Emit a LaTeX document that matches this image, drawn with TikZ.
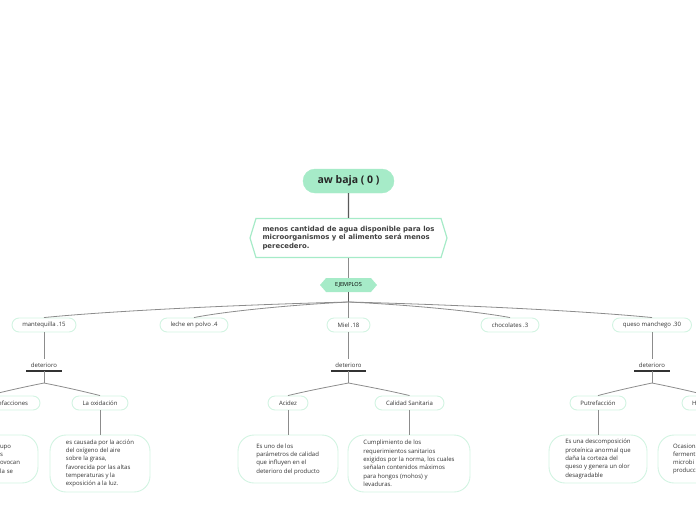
\documentclass[tikz,border=0pt]{standalone}
\usepackage{fontspec}
\setmainfont{Open Sans}
\newfontfamily\widefont{DejaVu Sans}
\usetikzlibrary{shapes.symbols}
\definecolor{mint}{HTML}{A6EBC8}
\definecolor{mintline}{HTML}{D2F4E2}
\definecolor{txtgray}{HTML}{333333}
\definecolor{linegray}{HTML}{8C8C8C}
\tikzstyle{base} = [inner sep=0pt, text=txtgray, font=\fontsize{6}{8.3}\selectfont]
\tikzstyle{root} = [base, rectangle, rounded corners=12pt, fill=mint, draw=mint, minimum width=91pt, minimum height=24pt, text=black!85, font=\fontsize{10.5}{12}\selectfont\bfseries]
\tikzstyle{idea} = [base, signal, signal to=east and west, signal pointer angle=146, draw=mint, line width=1.2pt, fill=white, minimum width=197pt, minimum height=39pt, align=left, text=black!75, font=\widefont\bfseries\fontsize{6.9}{8.5}\selectfont]
\tikzstyle{tag} = [base, signal, signal to=east and west, signal pointer angle=98, fill=mint, minimum width=57pt, minimum height=14pt, text=black, font=\fontsize{5.6}{7}\selectfont]
\tikzstyle{topic} = [base, rectangle, rounded corners=7pt, draw=mintline, line width=0.9pt, fill=white, minimum height=14pt]
\tikzstyle{note} = [base, rectangle, rounded corners=16pt, draw=mintline, line width=0.9pt, fill=white, align=left]
\tikzstyle{effect} = [base, minimum width=35pt, minimum height=12pt]
\tikzstyle{link} = [draw=linegray, line width=0.8pt]
\tikzstyle{trunk} = [draw=black!65, line width=1.1pt]
\tikzstyle{bar} = [draw=black!80, line width=1.5pt]

\begin{document}
\begin{tikzpicture}[x=1pt, y=-1pt]
\clip (0,0) rectangle (696,520);

\node (AW_BAJA) [root] at (348.5,181) {aw baja ( 0 )};
\node (MENOS_AGUA) [idea] at (348.5,238) {menos cantidad de agua disponible para los\\microorganismos y el alimento será menos\\perecedero.};
\node (EJEMPLOS) [tag] at (348.5,285) {EJEMPLOS};
\coordinate (SPLIT_EJEMPLOS) at (348.5,302);

\node (MANTEQUILLA) [topic, minimum width=64pt] at (44,325) {mantequilla .15};
\node (LECHE_POLVO) [topic, minimum width=68pt] at (194,325) {leche en polvo .4};
\node (MIEL) [topic, minimum width=43pt] at (348.5,325) {Miel .18};
\node (CHOCOLATES) [topic, minimum width=58pt] at (510,325) {chocolates .3};
\node (QUESO_MANCHEGO) [topic, minimum width=79pt] at (652,325) {queso manchego .30};

\node (DETERIORO_MANTEQUILLA) [effect] at (44,365) {deterioro};
\node (DETERIORO_MIEL) [effect] at (348.5,365) {deterioro};
\node (DETERIORO_QUESO) [effect] at (652,365) {deterioro};
\coordinate (SPLIT_MANTEQUILLA) at (44,383);
\coordinate (SPLIT_MIEL) at (348.5,383);
\coordinate (SPLIT_QUESO) at (652,383);

\node (PUTREFACCIONES) [topic, text width=80pt, align=right, inner xsep=12pt] at (-12,403) {efacciones};
\node (LA_OXIDACION) [topic, minimum width=56pt] at (100,403) {La oxidación};
\node (ACIDEZ) [topic, minimum width=40pt] at (288,403) {Acidez};
\node (CALIDAD_SANITARIA) [topic, minimum width=69pt] at (409.5,403) {Calidad Sanitaria};
\node (PUTREFACCION) [topic, minimum width=56pt] at (598,403) {Putrefacción};
\node (H_QUESO) [topic, text width=32pt, align=left, inner xsep=10pt] at (708,403) {H};

\node (PUTREFACCIONES_TXT) [note, text width=22pt, inner xsep=16pt, minimum height=48pt] at (11,459) {upo\\s\\ovocan\\la se};
\node (LA_OXIDACION_TXT) [note, minimum width=100pt, minimum height=57pt] at (100,463.5) {es causada por la acción\\del oxígeno del aire\\sobre la grasa,\\favorecida por las altas\\temperaturas y la\\exposición a la luz.};
\node (ACIDEZ_TXT) [note, minimum width=100pt, minimum height=48pt] at (288,459) {Es uno de los\\parámetros de calidad\\que influyen en el\\deterioro del producto};
\node (CALIDAD_SANITARIA_TXT) [note, minimum width=122pt, minimum height=57pt] at (409,463.5) {Cumplimiento de los\\requerimientos sanitarios\\exigidos por la norma, los cuales\\señalan contenidos máximos\\para hongos (mohos) y\\levaduras.};
\node (PUTREFACCION_TXT) [note, minimum width=98pt, minimum height=48pt] at (598,459) {Es una descomposición\\proteínica anormal que\\daña la corteza del\\queso y genera un olor\\desagradable};
\node (H_QUESO_TXT) [note, text width=40pt, inner xsep=15pt, minimum height=48pt] at (693,459) {Ocasiona\\ferment\\microbi\\producci};

% tronco
\draw [trunk] (AW_BAJA) -- (MENOS_AGUA);
\draw [link] (MENOS_AGUA) -- (EJEMPLOS);
\draw [trunk] (EJEMPLOS) -- (SPLIT_EJEMPLOS);

\draw [link] (SPLIT_EJEMPLOS) .. controls +(-120,3) and +(60,-6) .. (MANTEQUILLA.north);
\draw [link] (SPLIT_EJEMPLOS) .. controls +(-60,3) and +(30,-6) .. (LECHE_POLVO.north);
\draw [link] (SPLIT_EJEMPLOS) -- (MIEL.north);
\draw [link] (SPLIT_EJEMPLOS) .. controls +(64,3) and +(-32,-6) .. (CHOCOLATES.north);
\draw [link] (SPLIT_EJEMPLOS) .. controls +(120,3) and +(-60,-6) .. (QUESO_MANCHEGO.north);

% deterioro
\draw [link] (MANTEQUILLA) -- (DETERIORO_MANTEQUILLA);
\draw [link] (MIEL) -- (DETERIORO_MIEL);
\draw [link] (QUESO_MANCHEGO) -- (DETERIORO_QUESO);
\draw [bar] (DETERIORO_MANTEQUILLA.south west) -- (DETERIORO_MANTEQUILLA.south east);
\draw [bar] (DETERIORO_MIEL.south west) -- (DETERIORO_MIEL.south east);
\draw [bar] (DETERIORO_QUESO.south west) -- (DETERIORO_QUESO.south east);
\draw [link] (DETERIORO_MANTEQUILLA.south) -- (SPLIT_MANTEQUILLA);
\draw [link] (DETERIORO_MIEL.south) -- (SPLIT_MIEL);
\draw [link] (DETERIORO_QUESO.south) -- (SPLIT_QUESO);

\draw [link] (SPLIT_MANTEQUILLA) .. controls +(-20,4) and +(20,-5) .. (PUTREFACCIONES.north);
\draw [link] (SPLIT_MANTEQUILLA) .. controls +(20,4) and +(-20,-5) .. (LA_OXIDACION.north);
\draw [link] (SPLIT_MIEL) .. controls +(-21,4) and +(21,-5) .. (ACIDEZ.north);
\draw [link] (SPLIT_MIEL) .. controls +(21,4) and +(-21,-5) .. (CALIDAD_SANITARIA.north);
\draw [link] (SPLIT_QUESO) .. controls +(-19,4) and +(19,-5) .. (PUTREFACCION.north);
\draw [link] (SPLIT_QUESO) .. controls +(20,4) and +(-20,-5) .. (H_QUESO.north);

% notas
\draw [link] (PUTREFACCIONES.south) -- (PUTREFACCIONES.south |- PUTREFACCIONES_TXT.north);
\draw [link] (LA_OXIDACION) -- (LA_OXIDACION_TXT);
\draw [link] (ACIDEZ) -- (ACIDEZ_TXT);
\draw [link] (CALIDAD_SANITARIA.south) -- (CALIDAD_SANITARIA.south |- CALIDAD_SANITARIA_TXT.north);
\draw [link] (PUTREFACCION) -- (PUTREFACCION_TXT);
\draw [link] (H_QUESO.south) -- (H_QUESO.south |- H_QUESO_TXT.north);

\end{tikzpicture}
\end{document}
